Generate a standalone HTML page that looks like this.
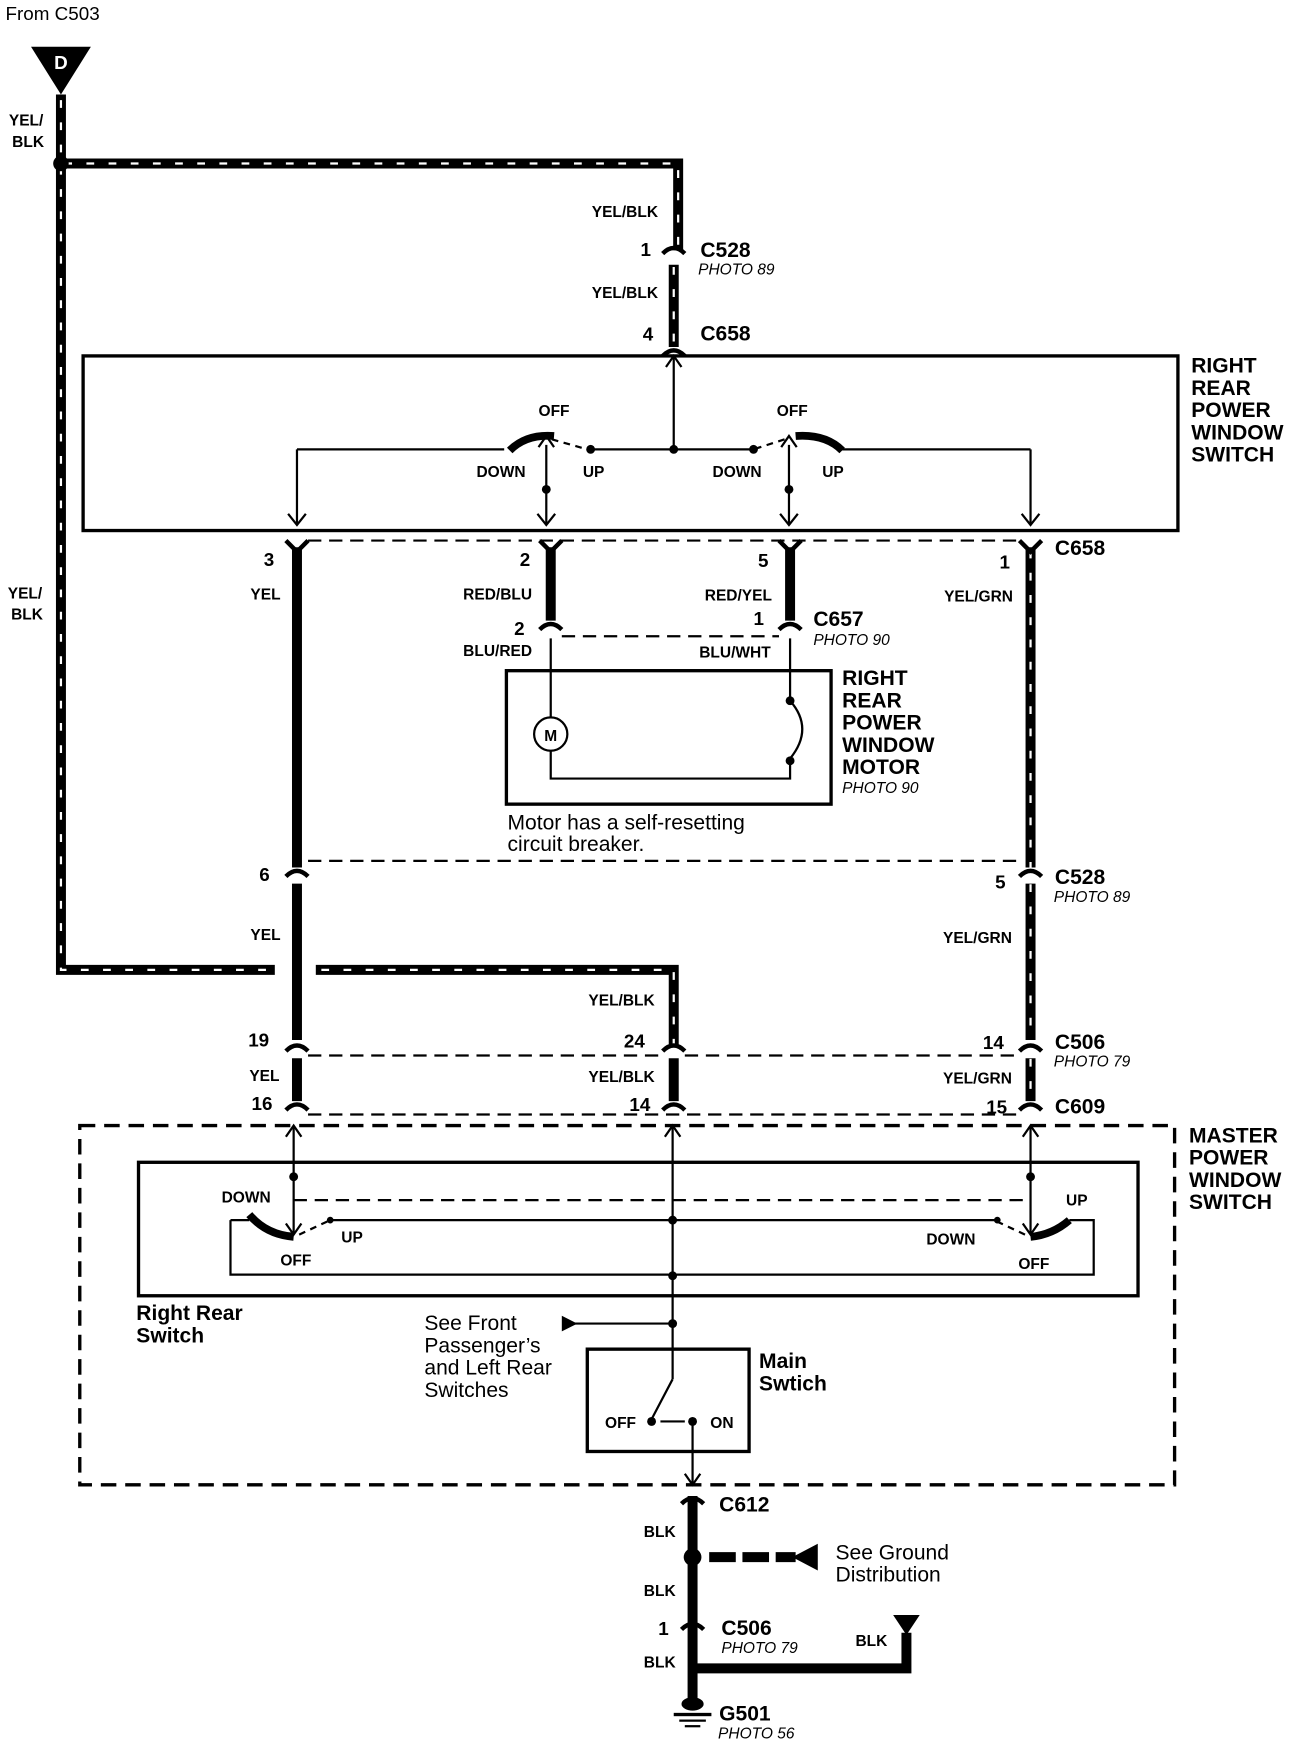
<!DOCTYPE html>
<html><head><meta charset="utf-8"><style>
html,body{margin:0;padding:0;background:#fff}
svg{display:block}
text{font-family:"Liberation Sans",sans-serif;fill:#000}
.b{font-weight:bold;font-size:14px}
.c{font-weight:bold;font-size:19px}
.p{font-style:italic;font-size:14px}
.n{font-weight:bold;font-size:17px}
.t{font-size:19px}
.h{font-weight:bold;font-size:19px}
</style></head><body>
<svg width="1312" height="1744" viewBox="0 0 1184 1568" preserveAspectRatio="none" xmlns="http://www.w3.org/2000/svg">
<g fill="none" stroke="#000">
<!-- striped YEL/BLK wires -->
<g stroke-width="9" stroke-linejoin="miter">
<path d="M55 85 V147 H612 V225"/><path d="M55 147 V872 H248"/><path d="M285 872 H608 V940"/>
<path d="M608 238 V312"/>
<path d="M930 492 V780 M930 792 V935 M930 950 V990"/>
<path d="M608 950 V990"/>
</g>
<g stroke="#fff" stroke-width="2" stroke-dasharray="7 13">
<path d="M55 90 V147 H612 V225"/><path d="M55 150 V872 H248"/><path d="M290 872 H608 V940"/>
<path d="M608 240 V312"/>
<path d="M930 495 V780 M930 795 V935 M930 952 V990"/>
</g>
<!-- solid thick wires -->
<g stroke-width="9">
<path d="M268 492 V780 M268 792 V935 M268 950 V990"/>
<path d="M497 492 V558 M713 492 V558"/>
<path d="M625 1345 V1530 M625 1500 H818 V1468"/>
</g>
<path d="M640 1400 H718" stroke-width="9" stroke-dasharray="24 6"/>
<!-- connector V shapes -->
<g stroke-width="4" fill="#000">
<path d="M258 486 L268 496 L278 486 M487 486 L497 496 L507 486 M703 486 L713 496 L723 486 M920 486 L930 496 L940 486" fill="none"/>
<path d="M598 228 Q608 218 618 228 M598 320 Q608 310 618 320 M487 566 Q497 556 507 566 M703 566 Q713 556 723 566 M258 788 Q268 778 278 788 M920 788 Q930 778 940 788 M258 945 Q268 935 278 945 M598 945 Q608 935 618 945 M920 945 Q930 935 940 945 M258 998 Q268 988 278 998 M598 998 Q608 988 618 998 M920 998 Q930 988 940 998 M615 1352 Q625 1342 635 1352 M615 1465 Q625 1455 635 1465" fill="none"/>
</g>
<g stroke="#fff" stroke-width="3">
<path d="M600 233 H616 M489 571 H505 M705 571 H721 M260 793 H276 M922 793 H938 M260 950 H276 M600 950 H616 M922 950 H938"/>
</g>
<!-- dashed connector lines -->
<g stroke-width="2" stroke-dasharray="12 7">
<path d="M278 486 H920"/><path d="M507 572 H703"/><path d="M278 774 H920"/>
<path d="M278 949 H598 M618 949 H920"/><path d="M278 1002 H920"/>
</g>
<!-- right rear switch box -->
<rect x="75" y="320" width="988" height="157" stroke-width="3"/>
<g stroke-width="2">
<path d="M608 320 V404 M268 404 H455 M533 404 H680 M760 404 H930 M268 404 V472 M930 404 V472 M493 400 V472 M712 400 V472"/>
<path d="M260 462 L268 472 L276 462 M922 462 L930 472 L938 462 M485 462 L493 472 L501 462 M704 462 L712 472 L720 462 M601 330 L608 320 L615 330"/>
<path d="M486 402 L493 392 L500 402 M705 402 L712 392 L719 402"/>
<path d="M498 395 L530 404 M708 395 L680 404" stroke-dasharray="6 5"/>
</g>
<path d="M460 405 Q475 390 500 392 M760 405 Q745 390 718 392" stroke-width="7"/>
<!-- motor box -->
<rect x="457" y="603" width="293" height="120" stroke-width="3"/>
<g stroke-width="2">
<path d="M497 574 V645 M497 675 V700 H713 V684 M713 574 V628"/>
<circle cx="497" cy="660" r="15"/>
<path d="M713 630 Q735 655 713 682"/>
</g>
<!-- master switch -->
<rect x="72" y="1012" width="988" height="323" stroke-width="3" stroke-dasharray="14 8"/>
<rect x="125" y="1045" width="902" height="120" stroke-width="3"/>
<g stroke-width="2">
<path d="M208 1097 V1146 H987 V1097 H965 M208 1097 H225"/>
<path d="M265 1012 V1110 M607 1012 V1240 M930 1012 V1110 M300 1097 H900"/>
<path d="M258 1022 L265 1012 L272 1022 M600 1022 L607 1012 L614 1022 M923 1022 L930 1012 L937 1022 M258 1100 L265 1110 L272 1100 M923 1100 L930 1110 L937 1100"/>
<path d="M265 1079 H930" stroke-dasharray="12 7"/>
<path d="M270 1110 L298 1097 M925 1110 L897 1097" stroke-dasharray="6 5"/>
<path d="M607 1190 H515"/>
<rect x="530" y="1213" width="146" height="92" stroke-width="3"/>
<path d="M607 1240 L588 1276 M625 1278 V1335 M596 1278 H618" />
<path d="M618 1325 L625 1335 L632 1325"/>
</g>
<path d="M225 1092 Q240 1110 265 1112 M965 1097 Q950 1110 930 1112" stroke-width="7"/>
</g>
<g fill="#000">
<circle cx="55" cy="147" r="7"/>
<path d="M28 42 H82 L55 85 Z"/>
<circle cx="608" cy="404" r="4"/><circle cx="533" cy="404" r="4"/><circle cx="680" cy="404" r="4"/>
<circle cx="493" cy="440" r="4"/><circle cx="712" cy="440" r="4"/>
<circle cx="713" cy="630" r="4"/><circle cx="713" cy="684" r="4"/>
<circle cx="265" cy="1058" r="4"/><circle cx="930" cy="1058" r="4"/><circle cx="607" cy="1097" r="4"/><circle cx="607" cy="1147" r="4"/>
<circle cx="607" cy="1190" r="4"/><circle cx="588" cy="1278" r="4"/><circle cx="625" cy="1278" r="4"/><circle cx="900" cy="1097" r="3"/><circle cx="298" cy="1097" r="3"/>
<circle cx="625" cy="1400" r="8"/>
<path d="M507 1183 L521 1190 L507 1197 Z"/>
<path d="M738 1388 L715 1400 L738 1412 Z"/>
<path d="M806 1452 H830 L818 1470 Z"/>
<ellipse cx="625" cy="1532" rx="10" ry="6"/>
<rect x="608" y="1540" width="34" height="3"/><rect x="613" y="1546" width="24" height="2"/><rect x="618" y="1551" width="14" height="2"/>
</g>
<text x="55" y="62" text-anchor="middle" style="fill:#fff;font-weight:bold;font-size:17px">D</text>
<text x="5" y="18" style="font-size:17px">From C503</text>
<text class="b" x="8" y="113">YEL/</text><text class="b" x="11" y="132">BLK</text>
<text class="b" x="7" y="538">YEL/</text><text class="b" x="10" y="557">BLK</text>
<text class="b" x="534" y="195">YEL/BLK</text><text class="b" x="534" y="268">YEL/BLK</text>
<text class="n" x="578" y="230">1</text><text class="c" x="632" y="231">C528</text><text class="p" x="630" y="247">PHOTO 89</text>
<text class="n" x="580" y="306">4</text><text class="c" x="632" y="306">C658</text>
<text class="h" x="1075" y="335">RIGHT</text><text class="h" x="1075" y="355">REAR</text><text class="h" x="1075" y="375">POWER</text><text class="h" x="1075" y="395">WINDOW</text><text class="h" x="1075" y="415">SWITCH</text>
<text class="b" x="486" y="374">OFF</text><text class="b" x="701" y="374">OFF</text>
<text class="b" x="430" y="429">DOWN</text><text class="b" x="526" y="429">UP</text>
<text class="b" x="643" y="429">DOWN</text><text class="b" x="742" y="429">UP</text>
<text class="c" x="952" y="499">C658</text>
<text class="n" x="238" y="509">3</text><text class="n" x="469" y="509">2</text><text class="n" x="684" y="510">5</text><text class="n" x="902" y="511">1</text>
<text class="b" x="226" y="539">YEL</text><text class="b" x="418" y="539">RED/BLU</text><text class="b" x="636" y="540">RED/YEL</text><text class="b" x="852" y="541">YEL/GRN</text>
<text class="n" x="464" y="571">2</text><text class="n" x="680" y="562">1</text><text class="c" x="734" y="563">C657</text><text class="p" x="734" y="580">PHOTO 90</text>
<text class="b" x="418" y="590">BLU/RED</text><text class="b" x="631" y="591">BLU/WHT</text>
<text x="497" y="666" text-anchor="middle" style="font-weight:bold;font-size:14px">M</text>
<text class="h" x="760" y="616">RIGHT</text><text class="h" x="760" y="636">REAR</text><text class="h" x="760" y="656">POWER</text><text class="h" x="760" y="676">WINDOW</text><text class="h" x="760" y="696">MOTOR</text><text class="p" x="760" y="713">PHOTO 90</text>
<text class="t" x="458" y="746">Motor has a self-resetting</text><text class="t" x="458" y="765">circuit breaker.</text>
<text class="n" x="234" y="792">6</text><text class="n" x="898" y="799">5</text><text class="c" x="952" y="795">C528</text><text class="p" x="951" y="811">PHOTO 89</text>
<text class="b" x="226" y="845">YEL</text><text class="b" x="851" y="848">YEL/GRN</text>
<text class="b" x="531" y="904">YEL/BLK</text>
<text class="n" x="224" y="941">19</text><text class="n" x="563" y="942">24</text><text class="n" x="887" y="943">14</text><text class="c" x="952" y="943">C506</text><text class="p" x="951" y="959">PHOTO 79</text>
<text class="b" x="225" y="972">YEL</text><text class="b" x="531" y="973">YEL/BLK</text><text class="b" x="851" y="974">YEL/GRN</text>
<text class="n" x="227" y="998">16</text><text class="n" x="568" y="999">14</text><text class="n" x="890" y="1001">15</text><text class="c" x="952" y="1001">C609</text>
<text class="h" x="1073" y="1027">MASTER</text><text class="h" x="1073" y="1047">POWER</text><text class="h" x="1073" y="1067">WINDOW</text><text class="h" x="1073" y="1087">SWITCH</text>
<text class="b" x="200" y="1081">DOWN</text><text class="b" x="962" y="1084">UP</text>
<text class="b" x="308" y="1117">UP</text><text class="b" x="836" y="1119">DOWN</text>
<text class="b" x="253" y="1138">OFF</text><text class="b" x="919" y="1141">OFF</text>
<text class="h" x="123" y="1187">Right Rear</text><text class="h" x="123" y="1207">Switch</text>
<text class="t" x="383" y="1196">See Front</text><text class="t" x="383" y="1216">Passenger’s</text><text class="t" x="383" y="1236">and Left Rear</text><text class="t" x="383" y="1256">Switches</text>
<text class="h" x="685" y="1230">Main</text><text class="h" x="685" y="1250">Swtich</text>
<text class="b" x="546" y="1284">OFF</text><text class="b" x="641" y="1284">ON</text>
<text class="c" x="649" y="1359">C612</text>
<text class="b" x="581" y="1382">BLK</text><text class="b" x="581" y="1435">BLK</text><text class="b" x="581" y="1499">BLK</text><text class="b" x="772" y="1480">BLK</text>
<text class="t" x="754" y="1402">See Ground</text><text class="t" x="754" y="1422">Distribution</text>
<text class="n" x="594" y="1470">1</text><text class="c" x="651" y="1470">C506</text><text class="p" x="651" y="1486">PHOTO 79</text>
<text class="c" x="649" y="1547">G501</text><text class="p" x="648" y="1563">PHOTO 56</text>
</svg>
</body></html>
